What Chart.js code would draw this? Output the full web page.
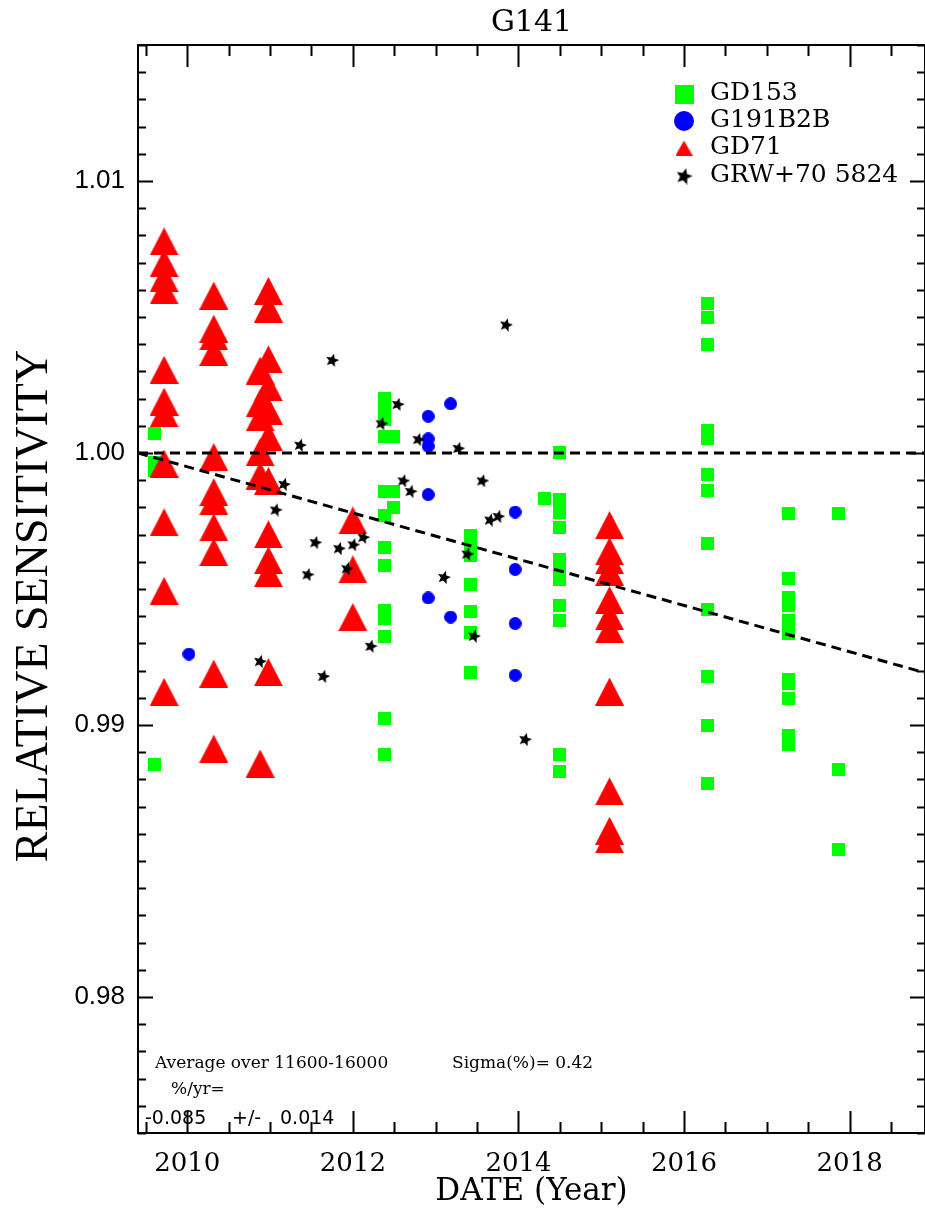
<!DOCTYPE html>
<html>
<head>
<meta charset="utf-8">
<script src="https://cdn.jsdelivr.net/npm/chart.js@4.4.0/dist/chart.umd.min.js"></script>
<style>
  html, body { margin: 0; padding: 0; background: #fff; overflow: hidden; }
  canvas { display: block; }
</style>
</head>
<body>
<canvas id="grafico" width="925" height="1213"></canvas>
<script>
// rango de los ejes
const xMin = 2009.405, xMax = 2018.91;
const yMin = 0.975, yMax = 1.015;
const xTicks = [2010, 2012, 2014, 2016, 2018];
const yTicks = [0.98, 0.99, 1.00, 1.01];

// GD153 (cuadrados verdes)
const gd153Year = [
  2009.60, 2009.60, 2009.60, 2009.60,
  2012.38, 2012.38, 2012.38, 2012.38, 2012.38, 2012.38, 2012.38, 2012.38, 2012.38, 2012.38, 2012.38, 2012.38, 2012.38, 2012.38,
  2012.49, 2012.49, 2012.49,
  2013.42, 2013.42, 2013.42, 2013.42, 2013.42, 2013.42, 2013.42, 2013.42,
  2014.32,
  2014.50, 2014.50, 2014.50, 2014.50, 2014.50, 2014.50, 2014.50, 2014.50, 2014.50, 2014.50, 2014.50, 2014.50,
  2016.28, 2016.28, 2016.28, 2016.28, 2016.28, 2016.28, 2016.28, 2016.28, 2016.28, 2016.28, 2016.28, 2016.28,
  2017.26, 2017.26, 2017.26, 2017.26, 2017.26, 2017.26, 2017.26, 2017.26, 2017.26, 2017.26, 2017.26,
  2017.86, 2017.86, 2017.86
];
const gd153Sens = [
  1.00072, 0.99965, 0.99936, 0.98853,
  1.00200, 1.00174, 1.00149, 1.00123, 1.00059, 0.99859, 0.99769, 0.99651, 0.99586, 0.99422, 0.99393, 0.99326, 0.99025, 0.98892,
  1.00059, 0.99858, 0.99798,
  0.99697, 0.99672, 0.99646, 0.99624, 0.99516, 0.99417, 0.99340, 0.99193,
  0.99832,
  1.00002, 0.99830, 0.99805, 0.99780, 0.99726, 0.99610, 0.99576, 0.99536, 0.99439, 0.99386, 0.98891, 0.98829,
  1.00551, 1.00500, 1.00399, 1.00084, 1.00052, 0.99922, 0.99862, 0.99667, 0.99425, 0.99180, 0.99000, 0.98786,
  0.99778, 0.99538, 0.99469, 0.99441, 0.99384, 0.99336, 0.99166, 0.99152, 0.99096, 0.98962, 0.98928,
  0.99778, 0.98838, 0.98542
];

// G191B2B (circulos azules)
const g191Year = [2010.02, 2012.91, 2012.91, 2012.91, 2012.91, 2012.91, 2013.18, 2013.18, 2013.96, 2013.96, 2013.96, 2013.96];
const g191Sens = [0.99261, 1.00135, 1.00052, 1.00025, 0.99847, 0.99467, 1.00181, 0.99397, 0.99783, 0.99572, 0.99373, 0.99183];

// GD71 (triangulos rojos)
const gd71Year = [
  2009.72, 2009.72, 2009.72, 2009.72, 2009.72, 2009.72, 2009.72, 2009.72, 2009.72, 2009.72, 2009.72,
  2010.32, 2010.32, 2010.32, 2010.32, 2010.32, 2010.32, 2010.32, 2010.32, 2010.32, 2010.32, 2010.32,
  2010.88, 2010.88, 2010.88, 2010.88, 2010.88, 2010.88,
  2010.98, 2010.98, 2010.98, 2010.98, 2010.98, 2010.98, 2010.98, 2010.98, 2010.98, 2010.98, 2010.98,
  2012.00, 2012.00, 2012.00,
  2015.10, 2015.10, 2015.10, 2015.10, 2015.10, 2015.10, 2015.10, 2015.10, 2015.10, 2015.10, 2015.10
];
const gd71Sens = [
  1.00778, 1.00698, 1.00643, 1.00598, 1.00306, 1.00189, 1.00146, 0.99961, 0.99745, 0.99493, 0.99122,
  1.00579, 1.00457, 1.00429, 1.00372, 0.99985, 0.99856, 0.99823, 0.99727, 0.99636, 0.99189, 0.98913,
  1.00303, 1.00183, 1.00131, 1.00003, 0.99917, 0.98858,
  1.00596, 1.00531, 1.00344, 1.00241, 1.00155, 1.00058, 0.99897, 0.99701, 0.99606, 0.99558, 0.99194,
  0.99752, 0.99572, 0.99397,
  0.99735, 0.99639, 0.99606, 0.99563, 0.99459, 0.99400, 0.99352, 0.99123, 0.98756, 0.98611, 0.98580
];

// GRW+70 5824 (estrellas negras)
const grwYear = [
  2010.878, 2011.068, 2011.168, 2011.361, 2011.454, 2011.546, 2011.643, 2011.751, 2011.832,
  2011.929, 2012.005, 2012.126, 2012.215, 2012.345, 2012.541, 2012.609, 2012.698, 2012.790,
  2013.100, 2013.273, 2013.382, 2013.463, 2013.563, 2013.656, 2013.756, 2013.849, 2014.079
];
const grwSens = [
  0.99235, 0.99792, 0.99886, 1.00030, 0.99554, 0.99672, 0.99180, 1.00342, 0.99650,
  0.99576, 0.99664, 0.99691, 0.99291, 1.00109, 1.00180, 0.99899, 0.99860, 1.00051,
  0.99544, 1.00018, 0.99630, 0.99328, 0.99899, 0.99755, 0.99768, 1.00472, 0.98948
];

// lineas de referencia y ajuste (-0.085 %/yr)
const refYear = [xMin, xMax];
const refSens = [1.0, 1.0];
const trendYear = [xMin, xMax];
const trendSens = [1.0, 0.99192];

function puntos(xs, ys) {
  return xs.map((x, i) => ({ x: x, y: ys[i] }));
}

// dibuja un simbolo en un canvas chico para usarlo como pointStyle
function marcador(tipo, w, h, color) {
  let c = document.createElement('canvas');
  c.width = w; c.height = h;
  let ctx = c.getContext('2d');
  ctx.fillStyle = color;
  ctx.beginPath();
  if (tipo == 'tri') {
    ctx.moveTo(w / 2, 0); ctx.lineTo(w, h); ctx.lineTo(0, h);
  } else if (tipo == 'circ') {
    ctx.arc(w / 2, h / 2, w / 2, 0, Math.PI * 2);
  } else if (tipo == 'cuad') {
    ctx.rect(0, 0, w, h);
  } else {
    let R = w / 2, r = R * 0.45, rot = 0.25;
    for (let k = 0; k < 10; k++) {
      let rad = k % 2 == 0 ? R : r;
      let a = rot - Math.PI / 2 + k * Math.PI / 5;
      let px = w / 2 + rad * Math.cos(a), py = h / 2 + rad * Math.sin(a) + 0.5;
      if (k == 0) ctx.moveTo(px, py); else ctx.lineTo(px, py);
    }
  }
  ctx.closePath();
  ctx.fill();
  return c;
}

const simCuad = marcador('cuad', 13, 13, '#00ff00');
const simCirc = marcador('circ', 13, 13, '#0000ff');
const simTri = marcador('tri', 29, 28, '#ff0000');
const simEst = marcador('est', 14, 14, '#000000');

// simbolos de la leyenda (un poco distintos)
const leyenda = [
  { texto: 'GD153', sim: marcador('cuad', 19, 19, '#00ff00'), y: 94 },
  { texto: 'G191B2B', sim: marcador('circ', 20, 20, '#0000ff'), y: 121 },
  { texto: 'GD71', sim: marcador('tri', 17, 15, '#ff0000'), y: 148 },
  { texto: 'GRW+70 5824', sim: marcador('est', 17, 17, '#000000'), y: 176 }
];

const marco = {
  id: 'marco',
  afterDraw(chart) {
    const ctx = chart.ctx;
    const a = chart.chartArea;
    const sx = chart.scales.x, sy = chart.scales.y;
    ctx.save();
    ctx.strokeStyle = '#000';
    ctx.lineWidth = 2;
    ctx.strokeRect(a.left, a.top, a.right - a.left, a.bottom - a.top);

    // ticks hacia adentro, en los 4 lados
    ctx.beginPath();
    for (let v = 2009.5; v <= xMax; v += 0.5) {
      let px = Math.round(sx.getPixelForValue(v)) + 0.5;
      let mayor = Math.abs(v / 2 - Math.round(v / 2)) < 1e-6;
      let len = mayor ? 22 : 11;
      ctx.moveTo(px, a.bottom); ctx.lineTo(px, a.bottom - len);
      ctx.moveTo(px, a.top); ctx.lineTo(px, a.top + len);
    }
    for (let i = 0; i <= 40; i++) {
      let v = yMin + i * 0.001;
      let py = Math.round(sy.getPixelForValue(v)) + 0.5;
      let len = (i % 10 == 5) ? 15 : 8;
      ctx.moveTo(a.left, py); ctx.lineTo(a.left + len, py);
      ctx.moveTo(a.right, py); ctx.lineTo(a.right - len, py);
    }
    ctx.stroke();

    ctx.fillStyle = '#000';
    // titulo
    ctx.font = '30px "DejaVu Serif"';
    ctx.textAlign = 'center';
    ctx.textBaseline = 'alphabetic';
    ctx.fillText('G141', (a.left + a.right) / 2, 31);

    // titulo eje x
    ctx.font = '31px "DejaVu Serif"';
    ctx.fillText('DATE (Year)', (a.left + a.right) / 2, 1200);

    // titulo eje y
    ctx.save();
    ctx.translate(47, 606);
    ctx.rotate(-Math.PI / 2);
    ctx.font = '46px "Liberation Serif"';
    ctx.fillText('RELATIVE SENSITIVITY', 0, 0);
    ctx.restore();

    // leyenda
    ctx.textAlign = 'left';
    ctx.font = '25px "DejaVu Serif"';
    leyenda.forEach(l => {
      ctx.drawImage(l.sim, 684 - l.sim.width / 2, l.y - l.sim.height / 2);
      ctx.fillText(l.texto, 710, l.y + 6);
    });

    // notas abajo
    ctx.font = '17px "DejaVu Serif"';
    ctx.fillText('Average over 11600-16000', 155, 1068);
    ctx.fillText('Sigma(%)= 0.42', 452, 1068);
    ctx.fillText('%/yr=', 171, 1094);
    ctx.font = '19px "DejaVu Sans"';
    ctx.fillText('-0.085', 145, 1124);
    ctx.fillText('+/-', 232, 1124);
    ctx.fillText('0.014', 280, 1124);
    ctx.restore();
  }
};

const datos = {
  datasets: [
    { label: 'refLine', type: 'line', data: puntos(refYear, refSens), borderColor: '#000', borderWidth: 3,
      borderDash: [10, 6], pointRadius: 0, showLine: true, fill: false, order: 0 },
    { label: 'trend', type: 'line', data: puntos(trendYear, trendSens), borderColor: '#000', borderWidth: 3,
      borderDash: [10, 6], pointRadius: 0, showLine: true, fill: false, order: 0 },
    { label: 'GRW+70 5824', data: puntos(grwYear, grwSens), pointStyle: simEst, order: 1 },
    { label: 'GD71', data: puntos(gd71Year, gd71Sens), pointStyle: simTri, order: 2 },
    { label: 'G191B2B', data: puntos(g191Year, g191Sens), pointStyle: simCirc, order: 3 },
    { label: 'GD153', data: puntos(gd153Year, gd153Sens), pointStyle: simCuad, order: 4 }
  ]
};

new Chart(document.getElementById('grafico'), {
  type: 'scatter',
  data: datos,
  plugins: [marco],
  options: {
    responsive: false,
    animation: false,
    devicePixelRatio: 1,
    events: [],
    layout: { autoPadding: false, padding: { left: 0, right: 0, top: 45, bottom: 0 } },
    plugins: { legend: { display: false }, tooltip: { enabled: false }, title: { display: false } },
    scales: {
      x: {
        type: 'linear', min: xMin, max: xMax,
        grid: { display: false, drawTicks: false }, border: { display: false },
        afterBuildTicks: s => { s.ticks = xTicks.map(v => ({ value: v })); },
        afterFit: s => { s.height = 80; s.paddingLeft = 0; s.paddingRight = 0; },
        ticks: { autoSkip: false, maxRotation: 0, padding: 16, color: '#000',
          font: { family: 'DejaVu Serif', size: 26 }, callback: v => String(v) }
      },
      y: {
        type: 'linear', min: yMin, max: yMax,
        grid: { display: false, drawTicks: false }, border: { display: false },
        afterBuildTicks: s => { s.ticks = yTicks.map(v => ({ value: v })); },
        afterFit: s => { s.width = 138; s.paddingTop = 0; s.paddingBottom = 0; },
        ticks: { autoSkip: false, padding: 13, color: '#000',
          font: { family: 'Liberation Sans', size: 26 }, callback: v => v.toFixed(2) }
      }
    }
  }
});
</script>
</body>
</html>
